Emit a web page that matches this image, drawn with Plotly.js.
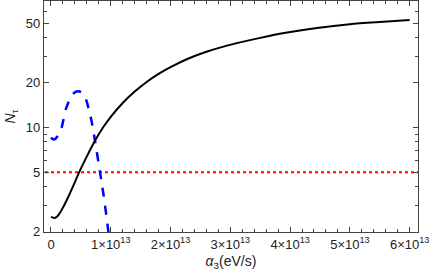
<!DOCTYPE html>
<html>
<head>
<meta charset="utf-8">
<script src="https://cdn.plot.ly/plotly-3.0.1.min.js"></script>
<style>html,body{margin:0;padding:0;background:#fff;}#plot{width:436px;height:279px;}</style>
</head>
<body>
<div id="plot"></div>
<script>
// x values in units of 1e13 eV/s
const blackX = [0, 0.05, 0.1, 0.15, 0.2, 0.3, 0.4, 0.47, 0.6, 0.74, 0.87, 1.0, 1.2, 1.4, 1.6, 1.8, 2.0, 2.3, 2.6, 2.9, 3.2, 3.5, 3.9, 4.45, 5.0, 5.5, 6.0];
const blackY = [2.52, 2.47, 2.52, 2.68, 2.9, 3.5, 4.3, 5.0, 6.4, 8.2, 10.0, 11.8, 14.6, 17.4, 20.2, 22.9, 25.4, 29.0, 32.2, 35.0, 37.5, 39.9, 43.0, 46.5, 49.3, 51.0, 52.5];
const blueX = [0, 0.05, 0.15, 0.26, 0.37, 0.446, 0.54, 0.65, 0.735, 0.82, 0.875, 0.93, 0.96, 1.0];
const blueY = [8.55, 8.3, 9.3, 13.7, 16.8, 17.5, 16.8, 12.4, 8.2, 5.0, 3.62, 2.5, 2.0, 1.5];
const redX = [-0.2, 6.3];
const redY = [5, 5];
const xTickVals = [0, 1, 2, 3, 4, 5, 6];
const xTickText = ['0', '1\u00d710<sup>13</sup>', '2\u00d710<sup>13</sup>', '3\u00d710<sup>13</sup>', '4\u00d710<sup>13</sup>', '5\u00d710<sup>13</sup>', '6\u00d710<sup>13</sup>'];
const yTickVals = [2, 5, 10, 20, 50];
const yTickText = ['2', '5', '10', '20', '50'];
const yMinorVals = [3, 4, 6, 7, 8, 9, 30, 40, 60, 70];

const traces = [
  {x: redX, y: redY, mode: 'lines', line: {color: '#ff0000', width: 2, dash: 'dot'}, hoverinfo: 'skip'},
  {x: blueX, y: blueY, mode: 'lines', line: {color: '#0000ff', width: 2.5, dash: 'dash', shape: 'spline'}, hoverinfo: 'skip'},
  {x: blackX, y: blackY, mode: 'lines', line: {color: '#000000', width: 2, shape: 'spline', smoothing: 0.8}, hoverinfo: 'skip'}
];

const axColor = '#444';
const layout = {
  width: 436, height: 279,
  margin: {l: 44, r: 18, t: 1, b: 47},
  paper_bgcolor: '#fff', plot_bgcolor: '#fff',
  showlegend: false,
  font: {family: 'Liberation Sans, Arial, sans-serif', size: 12, color: '#222'},
  xaxis: {
    range: [-0.117, 6.14],
    tickmode: 'array', tickvals: xTickVals, ticktext: xTickText,
    ticks: 'inside', ticklen: 5, tickwidth: 1, tickcolor: axColor,
    minor: {tick0: 0, dtick: 0.2, ticks: 'inside', ticklen: 3, tickcolor: axColor},
    showline: true, linecolor: axColor, linewidth: 1.2, mirror: 'allticks',
    showgrid: false, zeroline: false,
    tickfont: {size: 13, color: '#222'},
    title: {text: '<i>α</i><sub>3</sub>(eV/s)', font: {size: 14, color: '#222'}, standoff: 5}
  },
  yaxis: {
    type: 'log',
    range: [Math.log10(2) - 0.002, Math.log10(70.5)],
    tickmode: 'array', tickvals: yTickVals, ticktext: yTickText,
    ticks: 'inside', ticklen: 5, tickwidth: 1, tickcolor: axColor,
    minor: {tickmode: 'array', tickvals: yMinorVals, ticks: 'inside', ticklen: 3, tickcolor: axColor},
    showline: true, linecolor: axColor, linewidth: 1.2, mirror: 'allticks',
    showgrid: false, zeroline: false,
    tickfont: {size: 13, color: '#222'},
    title: {text: '<i>N</i><sub>τ</sub>', font: {size: 14, color: '#222'}, standoff: 6}
  }
};

Plotly.newPlot('plot', traces, layout, {staticPlot: true, displayModeBar: false});
</script>
</body>
</html>
